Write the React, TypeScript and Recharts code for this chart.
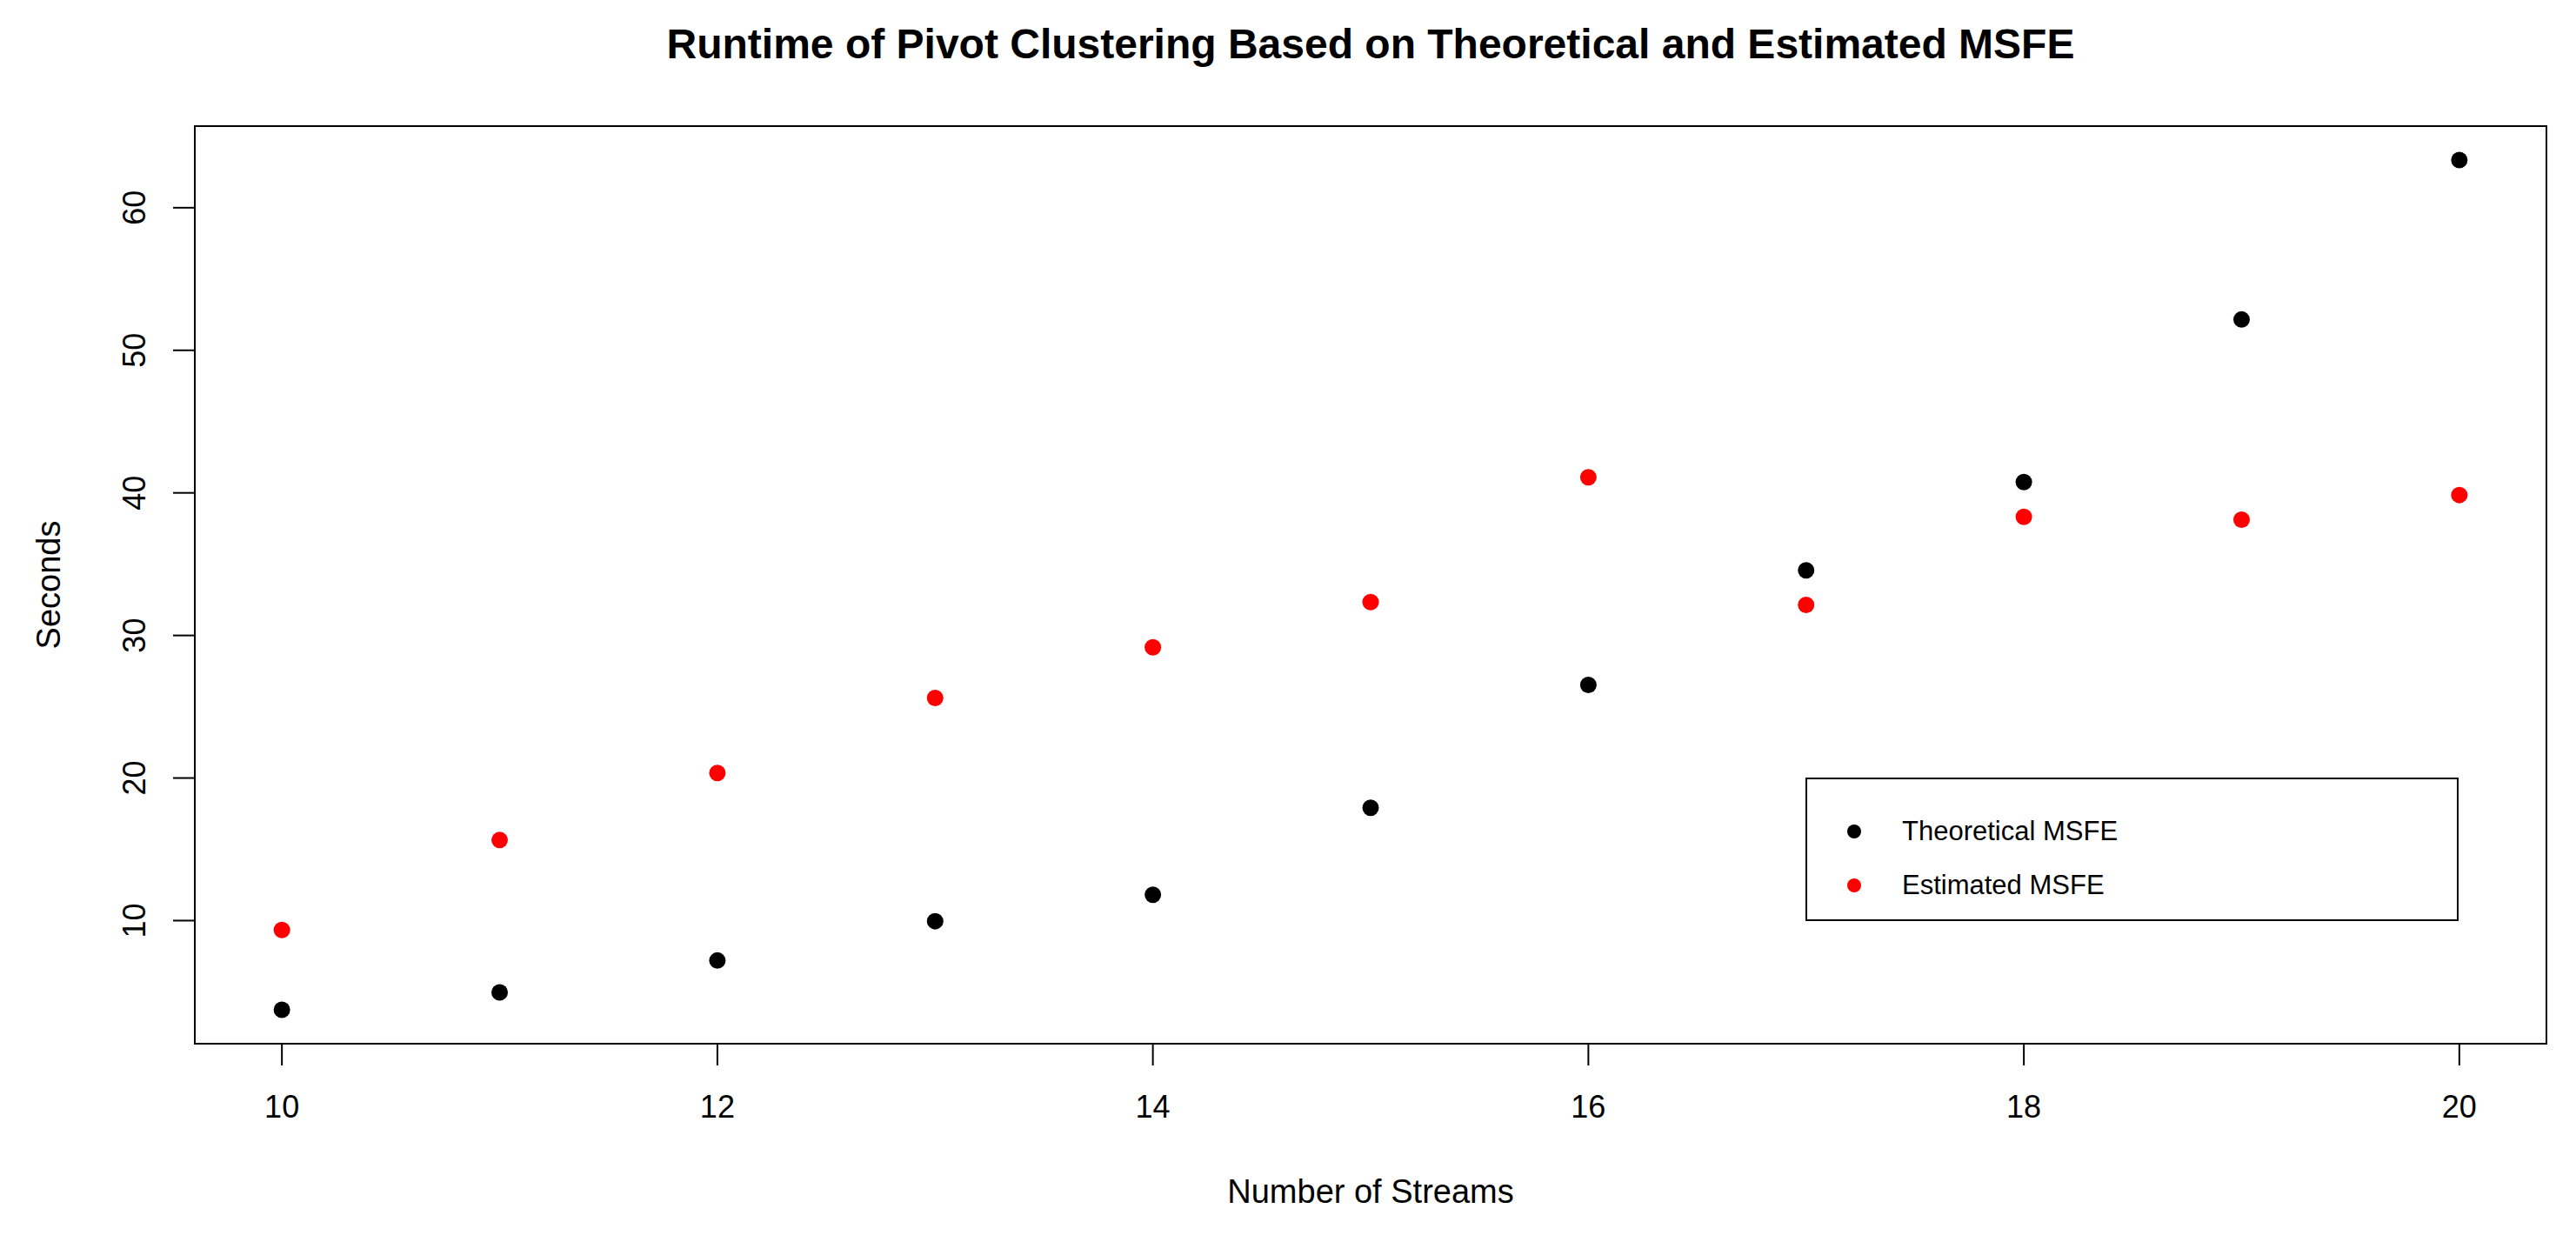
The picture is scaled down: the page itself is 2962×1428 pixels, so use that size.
import React from "react";
import {
  ScatterChart,
  Scatter,
  XAxis,
  YAxis,
  Legend,
  Label,
  ReferenceArea,
} from "recharts";

const streams = [10, 11, 12, 13, 14, 15, 16, 17, 18, 19, 20];
const theoreticalSeconds = [3.75, 4.97, 7.2, 9.96, 11.81, 17.91, 26.53, 34.57, 40.76, 52.16, 63.34];
const estimatedSeconds = [9.34, 15.65, 20.35, 25.62, 29.17, 32.34, 41.09, 32.14, 38.32, 38.12, 39.85];
const xTicks = [10, 12, 14, 16, 18, 20];
const yTicks = [10, 20, 30, 40, 50, 60];
const seriesNames = ["Theoretical MSFE", "Estimated MSFE"];
const seriesColors = ["#000000", "#ff0000"];
const titleText = "Runtime of Pivot Clustering Based on Theoretical and Estimated MSFE";
const xLabelText = "Number of Streams";
const yLabelText = "Seconds";

const FONT = '"Liberation Sans", Arial, Helvetica, sans-serif';

const theoreticalData = streams.map((x, i) => ({ x, y: theoreticalSeconds[i] }));
const estimatedData = streams.map((x, i) => ({ x, y: estimatedSeconds[i] }));

// R-style axis extension (4% on each side)
const allY = [...theoreticalSeconds, ...estimatedSeconds];
const yMinData = Math.min(...allY);
const yMaxData = Math.max(...allY);
const yRange = yMaxData - yMinData;
const yDomain: [number, number] = [yMinData - 0.04 * yRange, yMaxData + 0.04 * yRange];
const xMinData = Math.min(...streams);
const xMaxData = Math.max(...streams);
const xRange = xMaxData - xMinData;
const xDomain: [number, number] = [xMinData - 0.04 * xRange, xMaxData + 0.04 * xRange];

const W = 2962;
const H = 1428;

const XTick = (props: any) => {
  const { x, y, payload } = props;
  return (
    <text
      x={x}
      y={y}
      dy="0.71em"
      textAnchor="middle"
      fontFamily={FONT}
      fontSize={36}
      fill="#000"
    >
      {payload.value}
    </text>
  );
};

const YTick = (props: any) => {
  const { x, y, payload } = props;
  return (
    <text
      x={x}
      y={y}
      transform={`rotate(-90, ${x}, ${y})`}
      textAnchor="middle"
      fontFamily={FONT}
      fontSize={36}
      fill="#000"
    >
      {payload.value}
    </text>
  );
};

const dotShape = (color: string) => (props: any) => (
  <circle cx={props.cx} cy={props.cy} r={9.5} fill={color} stroke="none" />
);

const LegendBox = () => (
  <div
    style={{
      boxSizing: "border-box",
      width: 751,
      height: 165,
      border: "2px solid #000",
      background: "#fff",
      position: "relative",
      fontFamily: FONT,
      fontSize: 31,
      color: "#000",
    }}
  >
    {seriesNames.map((name, i) => (
      <div
        key={name}
        style={{
          position: "absolute",
          left: 0,
          top: 62 + i * 62 - 2 - 20,
          height: 40,
          width: 740,
        }}
      >
        <svg
          width={20}
          height={20}
          style={{ position: "absolute", left: 56 - 2 - 10, top: 10 }}
        >
          <circle cx={10} cy={10} r={8} fill={seriesColors[i]} />
        </svg>
        <span
          style={{
            position: "absolute",
            left: 111 - 2,
            top: 0,
            lineHeight: "40px",
            whiteSpace: "nowrap",
          }}
        >
          {name}
        </span>
      </div>
    ))}
  </div>
);

export default function App() {
  return (
    <div
      style={{
        position: "absolute",
        left: 0,
        top: 0,
        width: W,
        height: H,
        background: "#fff",
      }}
    >
      <ScatterChart
        width={W}
        height={H}
        margin={{ top: 145, right: 34, bottom: 0, left: 0 }}
      >
        <XAxis
          type="number"
          dataKey="x"
          domain={xDomain}
          ticks={xTicks}
          allowDataOverflow
          height={228}
          axisLine={false}
          tickSize={25}
          tickMargin={34}
          tickLine={{ stroke: "#000", strokeWidth: 2 }}
          tick={<XTick />}
          interval={0}
        >
          <Label
            value={xLabelText}
            position="insideBottom"
            offset={45}
            style={{ fontFamily: FONT, fontSize: 38, fill: "#000" }}
          />
        </XAxis>
        <YAxis
          type="number"
          dataKey="y"
          domain={yDomain}
          ticks={yTicks}
          allowDataOverflow
          width={224}
          axisLine={false}
          tickSize={25}
          tickMargin={32}
          tickLine={{ stroke: "#000", strokeWidth: 2 }}
          tick={<YTick />}
          interval={0}
        >
          <Label
            value={yLabelText}
            angle={-90}
            position="insideLeft"
            offset={56}
            style={{
              fontFamily: FONT,
              fontSize: 38,
              fill: "#000",
              textAnchor: "middle",
            }}
          />
        </YAxis>
        <ReferenceArea
          x1={xDomain[0]}
          x2={xDomain[1]}
          y1={yDomain[0]}
          y2={yDomain[1]}
          fill="none"
          fillOpacity={0}
          stroke="#000"
          strokeWidth={2}
          ifOverflow="visible"
        />
        <Scatter
          name={seriesNames[0]}
          data={theoreticalData}
          fill={seriesColors[0]}
          shape={dotShape(seriesColors[0])}
          isAnimationActive={false}
        />
        <Scatter
          name={seriesNames[1]}
          data={estimatedData}
          fill={seriesColors[1]}
          shape={dotShape(seriesColors[1])}
          isAnimationActive={false}
        />
        <Legend
          layout="horizontal"
          verticalAlign="middle"
          align="center"
          content={<LegendBox />}
          wrapperStyle={{ left: 2076, top: 894, width: 751, height: 165 }}
        />
      </ScatterChart>
      <svg
        width={W}
        height={140}
        style={{ position: "absolute", left: 0, top: 0, pointerEvents: "none" }}
      >
        <text
          x={1576}
          y={67}
          textAnchor="middle"
          fontFamily={FONT}
          fontWeight="bold"
          fontSize={48}
          fill="#000"
        >
          {titleText}
        </text>
      </svg>
    </div>
  );
}
